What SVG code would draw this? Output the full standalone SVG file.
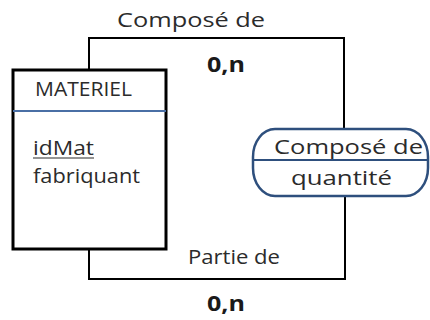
<svg xmlns="http://www.w3.org/2000/svg" width="430" height="320" viewBox="0 0 430 320">
<style>
.t{font-family:"Open Sans","Liberation Sans",sans-serif;font-size:20px;fill:#2b2b2b}
.b{font-family:"Open Sans","Liberation Sans",sans-serif;font-size:21px;font-weight:bold;fill:#1a1a1a}
.ln{fill:none;stroke:#000;stroke-width:2}
</style>
<rect width="430" height="320" fill="#fff"/>
<g id="connectors">
<polyline class="ln" points="89,69 89,38 344,38 344,129"/>
<polyline class="ln" points="89,249 89,279 345,279 345,196"/>
<text class="t" x="117" y="27" textLength="148" lengthAdjust="spacingAndGlyphs">Composé de</text>
<text class="b" x="207" y="72" textLength="38" lengthAdjust="spacingAndGlyphs">0,n</text>
<text class="t" x="188" y="264" textLength="92" lengthAdjust="spacingAndGlyphs">Partie de</text>
<text class="b" x="207" y="311" textLength="38" lengthAdjust="spacingAndGlyphs">0,n</text>
</g>
<g id="materiel">
<rect x="13" y="70" width="153" height="179" fill="#fff" stroke="#000" stroke-width="3"/>
<line x1="13" y1="111" x2="166" y2="111" stroke="#4a6fa5" stroke-width="2"/>
<text class="t" x="35" y="96" textLength="97" lengthAdjust="spacingAndGlyphs">MATERIEL</text>
<text class="t" x="33" y="155" textLength="61" lengthAdjust="spacingAndGlyphs">idMat</text>
<line x1="33" y1="158" x2="94" y2="158" stroke="#2b2b2b" stroke-width="1.2"/>
<text class="t" x="33" y="183" textLength="107" lengthAdjust="spacingAndGlyphs">fabriquant</text>
</g>
<g id="compose">
<rect x="253" y="129" width="175" height="67" rx="22" ry="28" fill="#fff" stroke="#2e4f7d" stroke-width="2.5"/>
<line x1="254" y1="160" x2="427" y2="160" stroke="#2e4f7d" stroke-width="2"/>
<text class="t" x="274" y="154" textLength="149" lengthAdjust="spacingAndGlyphs">Composé de</text>
<text class="t" x="291" y="185" textLength="101" lengthAdjust="spacingAndGlyphs">quantité</text>
</g>
</svg>
